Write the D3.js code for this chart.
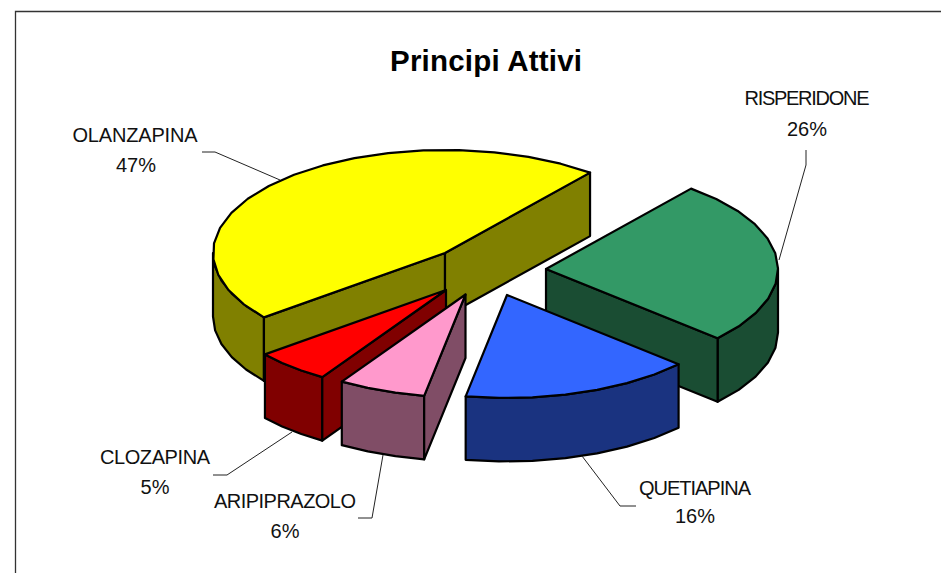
<!DOCTYPE html>
<html><head><meta charset="utf-8">
<style>html,body{margin:0;padding:0;background:#fff}svg{display:block}text{font-family:"Liberation Sans",Arial,sans-serif;fill:#111}</style>
<script src="https://cdn.jsdelivr.net/npm/d3@7/dist/d3.min.js"></script>
</head><body><svg id="c" width="941" height="573"></svg>
<script>
// Data (clockwise from the first slice)
const categories = ["RISPERIDONE","QUETIAPINA","ARIPIPRAZOLO","CLOZAPINA","OLANZAPINA"];
const values = [26,16.1,6.1,5.3,46.5];
const title = "Principi Attivi";
// Styles
const topColors  = ["#339966","#3366FF","#FF99CC","#FF0000","#FFFF00"];
const wallColors = ["#1A4D33","#1A3380","#804D66","#800000","#808000"];
// Layout
const W=941,H=573, cx=445, cy=253, rx=232, ry=103, depth=63.5;
const rotation = 38.7*Math.PI/180;
const explodeX=[101,62,20.5,1,0], explodeY=[16,42,41.5,37,0];
const drawOrder=[4,0,1,3,2];
const labelX=[807,695,285,155,135], nameY=[105,495,508,464,142], pctY=[136,523,538,494,172];
const pctX=[807,695,285,155,136];
const labelW=[125,112,142,110,125];
const leaders=[
 [[806,150],[806,165],[779,260]],
 [[636,506],[620,506],[582,456]],
 [[358,518],[372,518],[383,455]],
 [[213,475],[227,475],[292,432]],
 [[202,152],[215,152],[280,180]]];

const svg=d3.select("#c");
svg.append("path").attr("d",`M15.5,${H}V11.5H${W}`).attr("fill","none").attr("stroke","#333").attr("stroke-width",1.3);
svg.append("text").attr("x",486).attr("y",71).attr("text-anchor","middle")
  .attr("font-size",29.5).attr("font-weight","bold").attr("textLength",192).style("fill","#000").text(title);

const arcs=d3.pie().sort(null).startAngle(rotation).endAngle(rotation+2*Math.PI)(values);
const sx=d3.scaleLinear([-1,1],[-rx,rx]), sy=d3.scaleLinear([-1,1],[-ry,ry]);
const line=d3.line().x(p=>p[0]).y(p=>p[1]);
const step=9*Math.PI/180;
function samples(a0,a1){
  const n=Math.max(1,Math.ceil((a1-a0)/step));
  return d3.range(n+1).map(i=>a0+(a1-a0)*i/n);
}
drawOrder.forEach(i=>{
  const d=arcs[i];
  const ax=cx+explodeX[i], ay=cy+explodeY[i];
  const pt=(a,z=0)=>[ax+sx(Math.sin(a)),ay+sy(-Math.cos(a))+z];
  const g=svg.append("g").attr("stroke","#000").attr("stroke-width",2.2).attr("stroke-linejoin","round");
  const wall=pts=>g.append("path").attr("d",line(pts)+"Z").attr("fill",wallColors[i]);
  // rim: only the part facing the viewer
  const f0=Math.max(d.startAngle,Math.PI/2), f1=Math.min(d.endAngle,1.5*Math.PI);
  if(f1>f0){
    const s=samples(f0,f1);
    wall(s.map(a=>pt(a)).concat(s.slice().reverse().map(a=>pt(a,depth))));
  }
  // cut faces
  if(Math.sin(d.startAngle)<0) wall([[ax,ay],pt(d.startAngle),pt(d.startAngle,depth),[ax,ay+depth]]);
  if(Math.sin(d.endAngle)>0)   wall([[ax,ay],pt(d.endAngle),pt(d.endAngle,depth),[ax,ay+depth]]);
  // top
  g.append("path").attr("d",line([[ax,ay]].concat(samples(d.startAngle,d.endAngle).map(a=>pt(a))))+"Z").attr("fill",topColors[i]);
});
categories.forEach((c,i)=>{
  svg.append("path").attr("d",line(leaders[i])).attr("fill","none").attr("stroke","#222").attr("stroke-width",1);
  svg.append("text").attr("x",labelX[i]).attr("y",nameY[i]).attr("text-anchor","middle").attr("font-size",20)
    .attr("textLength",labelW[i]).text(c);
  svg.append("text").attr("x",pctX[i]).attr("y",pctY[i]).attr("text-anchor","middle").attr("font-size",20)
    .text(Math.round(values[i])+"%");
});
</script></body></html>
